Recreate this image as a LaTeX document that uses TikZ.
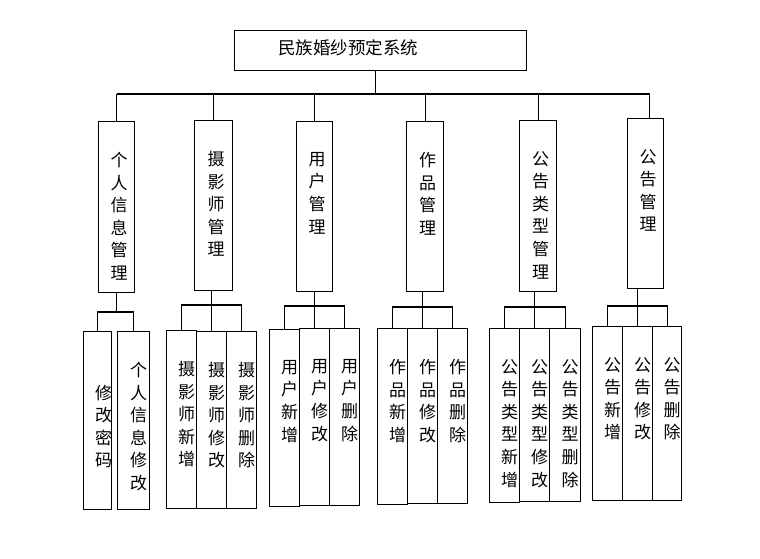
\documentclass[tikz,border=0pt]{standalone}
\usepackage{fontspec}
\newfontfamily\cjk{Noto Sans CJK SC}
\tikzset{
  box/.style 2 args = {draw, line width=1.1pt, minimum width=#1pt,
                minimum height=#2pt, inner sep=0pt, anchor=north west},
  vtext/.style = {font=\cjk\fontsize{17}{22.6}\selectfont, align=center,
                inner sep=0pt, anchor=north},
  link/.style = {line width=1.1pt}
}
\begin{document}
\begin{tikzpicture}[x=1pt, y=-1pt]
	\def \dtop{-31pt}   % text below box top
	\def \dside{5pt}    % text right of box middle
	\useasboundingbox (0,0) rectangle (760,559);

	% System
	\node[box={292}{40}] (sys) at (234,30) {};
	\node[font=\cjk\fontsize{17.5}{20}\selectfont, inner sep=0pt, anchor=west] (syst) at (278,48) {民族婚纱预定系统};

	% Modules
	\node[box={36}{171}] (m1) at (98,121) {};
	\node[box={38}{170}] (m2) at (194,120) {};
	\node[box={36}{170}] (m3) at (296,121) {};
	\node[box={37}{170}] (m4) at (406,121) {};
	\node[box={37}{171}] (m5) at (519,120) {};
	\node[box={36}{170}] (m6) at (627,118) {};

	\node[vtext] (m1t) at ([xshift=2.5pt,yshift=\dtop]m1.north) {个\\人\\信\\息\\管\\理};
	\node[vtext] (m2t) at ([xshift=2.5pt,yshift=\dtop]m2.north) {摄\\影\\师\\管\\理};
	\node[vtext] (m3t) at ([xshift=2.5pt,yshift=\dtop]m3.north) {用\\户\\管\\理};
	\node[vtext] (m4t) at ([xshift=2.5pt,yshift=\dtop]m4.north) {作\\品\\管\\理};
	\node[vtext] (m5t) at ([xshift=2.5pt,yshift=\dtop]m5.north) {公\\告\\类\\型\\管\\理};
	\node[vtext] (m6t) at ([xshift=2.5pt,yshift=\dtop]m6.north) {公\\告\\管\\理};

	% Functions
	\node[box={28}{178}] (s11) at (83,331) {};
	\node[box={32}{178}] (s12) at (117,331) {};
	\node[box={30}{178}] (s21) at (166,330) {};
	\node[box={30}{177}] (s22) at (196,331) {};
	\node[box={30}{177}] (s23) at (226,331) {};
	\node[box={30}{177}] (s31) at (269,329) {};
	\node[box={30}{177}] (s32) at (299,328) {};
	\node[box={30}{177}] (s33) at (329,328) {};
	\node[box={30}{176}] (s41) at (377,328) {};
	\node[box={30}{175}] (s42) at (407,328) {};
	\node[box={30}{175}] (s43) at (437,328) {};
	\node[box={30}{174}] (s51) at (489,328) {};
	\node[box={30}{173}] (s52) at (519,328) {};
	\node[box={31}{173}] (s53) at (549,328) {};
	\node[box={30}{174}] (s61) at (592,326) {};
	\node[box={30}{174}] (s62) at (622,326) {};
	\node[box={29}{174}] (s63) at (652,326) {};

	\node[vtext] (s11t) at ([xshift=6pt,yshift=-53.6pt]s11.north) {修\\改\\密\\码};
	\node[vtext] (s12t) at ([xshift=\dside,yshift=\dtop]s12.north) {个\\人\\信\\息\\修\\改};
	\node[vtext] (s21t) at ([xshift=\dside,yshift=\dtop]s21.north) {摄\\影\\师\\新\\增};
	\node[vtext] (s22t) at ([xshift=\dside,yshift=\dtop]s22.north) {摄\\影\\师\\修\\改};
	\node[vtext] (s23t) at ([xshift=\dside,yshift=\dtop]s23.north) {摄\\影\\师\\删\\除};
	\node[vtext] (s31t) at ([xshift=\dside,yshift=\dtop]s31.north) {用\\户\\新\\增};
	\node[vtext] (s32t) at ([xshift=\dside,yshift=\dtop]s32.north) {用\\户\\修\\改};
	\node[vtext] (s33t) at ([xshift=\dside,yshift=\dtop]s33.north) {用\\户\\删\\除};
	\node[vtext] (s41t) at ([xshift=\dside,yshift=\dtop]s41.north) {作\\品\\新\\增};
	\node[vtext] (s42t) at ([xshift=\dside,yshift=\dtop]s42.north) {作\\品\\修\\改};
	\node[vtext] (s43t) at ([xshift=\dside,yshift=\dtop]s43.north) {作\\品\\删\\除};
	\node[vtext] (s51t) at ([xshift=\dside,yshift=\dtop]s51.north) {公\\告\\类\\型\\新\\增};
	\node[vtext] (s52t) at ([xshift=\dside,yshift=\dtop]s52.north) {公\\告\\类\\型\\修\\改};
	\node[vtext] (s53t) at ([xshift=\dside,yshift=\dtop]s53.north) {公\\告\\类\\型\\删\\除};
	\node[vtext] (s61t) at ([xshift=\dside,yshift=\dtop]s61.north) {公\\告\\新\\增};
	\node[vtext] (s62t) at ([xshift=\dside,yshift=\dtop]s62.north) {公\\告\\修\\改};
	\node[vtext] (s63t) at ([xshift=\dside,yshift=\dtop]s63.north) {公\\告\\删\\除};

	% Bus to modules
	\coordinate (bus) at (0,94);
	\draw[link] ([xshift=-5pt]sys.south) -- ([xshift=-5pt]sys.south |- bus);
	\draw[link] (m1.north |- bus) -- ([xshift=4pt]m6.north |- bus);
	\draw[link] (m1.north) -- (m1.north |- bus);
	\draw[link] (m2.north) -- (m2.north |- bus);
	\draw[link] (m3.north) -- (m3.north |- bus);
	\draw[link] (m4.north) -- (m4.north |- bus);
	\draw[link] (m5.north) -- (m5.north |- bus);
	\draw[link] ([xshift=4pt]m6.north) -- ([xshift=4pt]m6.north |- bus);

	% Modules to functions
	\coordinate (h1) at (0,312);
	\coordinate (h2) at (0,305);
	\coordinate (h3) at (0,306);
	\coordinate (h4) at (0,307);
	\coordinate (h5) at (0,307);
	\coordinate (h6) at (0,306);
	\draw[link] (m1.south) -- (m1.south |- h1);
	\draw[link] (s11.north) |- (s12.north |- h1) -- (s12.north);
	\draw[link] (s21.north) |- (s23.north |- h2) -- (s23.north);
	\draw[link] (s22.north) -- (s22.north |- m2.south);
	\draw[link] (s31.north) |- (s33.north |- h3) -- (s33.north);
	\draw[link] (s32.north) -- (s32.north |- m3.south);
	\draw[link] (s41.north) |- (s43.north |- h4) -- (s43.north);
	\draw[link] (s42.north) -- (s42.north |- m4.south);
	\draw[link] (s51.north) |- (s53.north |- h5) -- (s53.north);
	\draw[link] (s52.north) -- (s52.north |- m5.south);
	\draw[link] (s61.north) |- (s63.north |- h6) -- (s63.north);
	\draw[link] (s62.north) -- (s62.north |- m6.south);

\end{tikzpicture}
\end{document}
